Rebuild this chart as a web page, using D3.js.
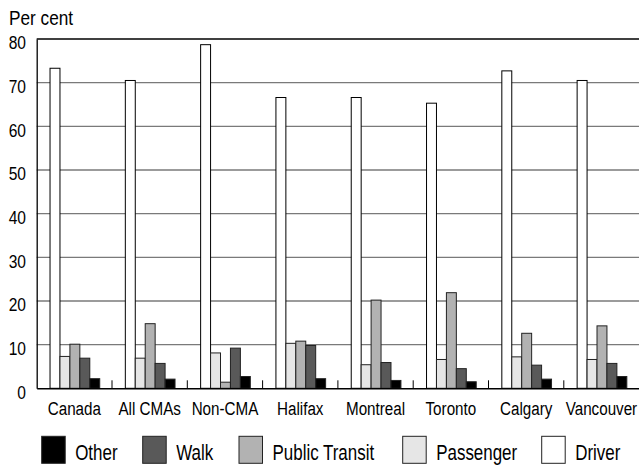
<!DOCTYPE html>
<html>
<head>
<meta charset="utf-8">
<script src="https://cdn.jsdelivr.net/npm/d3@7"></script>
<style>
  html, body { margin: 0; padding: 0; background: #fff; }
  svg { display: block; }
  text { font-family: "Liberation Sans", Arial, sans-serif; fill: #000; }
</style>
</head>
<body>
<svg id="chart" width="639" height="466"></svg>
<script>
const categories = ["Canada", "All CMAs", "Non-CMA", "Halifax", "Montreal", "Toronto", "Calgary", "Vancouver"];
const seriesNames = ["Driver", "Passenger", "Public Transit", "Walk", "Other"];
const driver    = [73.3, 70.5, 78.7, 66.6, 66.6, 65.3, 72.7, 70.5];
const passenger = [7.3, 6.9, 8.1, 10.3, 5.4, 6.6, 7.2, 6.6];
const transit   = [10.1, 14.8, 1.4, 10.8, 20.2, 21.9, 12.6, 14.3];
const walk      = [6.9, 5.7, 9.2, 9.8, 5.9, 4.5, 5.3, 5.7];
const other     = [2.2, 2.1, 2.7, 2.2, 1.8, 1.5, 2.1, 2.7];
const yTicks = [0, 10, 20, 30, 40, 50, 60, 70, 80];
const legendOrder = ["Other", "Walk", "Public Transit", "Passenger", "Driver"];
const yTitle = "Per cent";

const seriesValues = [driver, passenger, transit, walk, other];
const colors = { "Driver": "#ffffff", "Passenger": "#e6e6e6", "Public Transit": "#b2b2b2", "Walk": "#595959", "Other": "#000000" };

const svg = d3.select("#chart");
const mLeft = 36.7, mRight = 639.1, mTop = 39, mBottom = 388.3;

const x0 = d3.scaleBand().domain(categories).range([mLeft, mRight]).paddingInner(0).paddingOuter(0);
const bw = x0.bandwidth();
const x1 = d3.scaleBand().domain(seriesNames).range([bw * 0.177, bw * 0.177 + bw * 0.66]).padding(0);
const y = d3.scaleLinear().domain([0, 80]).range([mBottom, mTop]);

// gridlines
svg.append("g").selectAll("line").data(yTicks.filter(t => t > 0 && t < 80)).join("line")
  .attr("x1", mLeft).attr("x2", mRight).attr("y1", d => y(d)).attr("y2", d => y(d))
  .attr("stroke", "#7a7a7a").attr("stroke-width", 1.3);
// top frame
svg.append("line").attr("x1", mLeft).attr("x2", mRight).attr("y1", y(80)).attr("y2", y(80))
  .attr("stroke", "#000").attr("stroke-width", 1.3);

// bars
const g = svg.append("g");
categories.forEach((c, i) => {
  seriesNames.forEach((s, j) => {
    const v = seriesValues[j][i];
    g.append("rect")
      .attr("x", x0(c) + x1(s))
      .attr("y", y(v))
      .attr("width", x1.bandwidth())
      .attr("height", y(0) - y(v))
      .attr("fill", colors[s])
      .attr("stroke", s === "Driver" ? "#000" : "#222").attr("stroke-width", 1);
  });
});

// y axis
const ySx = 0.82;
const yAxis = d3.axisLeft(y).tickValues(yTicks).tickSize(0).tickPadding(10.7 / ySx).tickFormat(d3.format("d"));
const ya = svg.append("g").attr("transform", `translate(${mLeft},0)`).call(yAxis);
ya.select(".domain").attr("stroke", "#000").attr("stroke-width", 1.3);
ya.selectAll("text").attr("font-size", 19).attr("font-family", null).attr("dy", "0.52em")
  .attr("transform", `scale(${ySx},1)`);

// x axis
const xSx = 0.8;
const xAxis = d3.axisBottom(x0).tickSize(0).tickPadding(13.4);
const xa = svg.append("g").attr("transform", `translate(0,${mBottom})`).call(xAxis);
xa.select(".domain").attr("stroke", "#000").attr("stroke-width", 1.6);
xa.selectAll("text").attr("font-size", 19).attr("font-family", null).attr("dy", "0.71em")
  .attr("transform", `scale(${xSx},1)`);
// boundary ticks (inward)
svg.append("g").selectAll("line").data(categories.slice(0, -1)).join("line")
  .attr("x1", d => x0(d) + bw).attr("x2", d => x0(d) + bw)
  .attr("y1", mBottom).attr("y2", mBottom - 8)
  .attr("stroke", "#000").attr("stroke-width", 1);

// y title
svg.append("text").attr("transform", "translate(9,25) scale(0.82,1)").attr("font-size", 21).text(yTitle);

// legend
const legendX = [41.7, 142.7, 239, 402.7, 541.7];
const lg = svg.append("g");
legendOrder.forEach((s, i) => {
  lg.append("rect").attr("x", legendX[i]).attr("y", 436.3).attr("width", 23.5).attr("height", 27)
    .attr("fill", colors[s]).attr("stroke", "#222").attr("stroke-width", 1);
  lg.append("text").attr("transform", `translate(${legendX[i] + 33.5},460) scale(0.77,1)`)
    .attr("font-size", 22).text(s);
});
</script>
</body>
</html>
